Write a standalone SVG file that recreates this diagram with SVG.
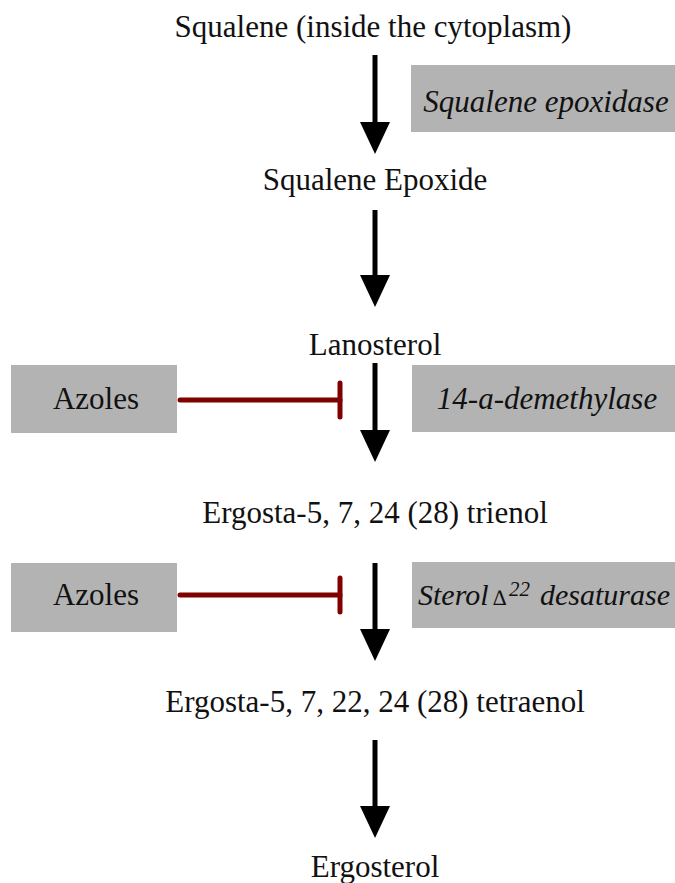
<svg xmlns="http://www.w3.org/2000/svg" width="675" height="883" viewBox="0 0 675 883">
<style>
.lbl{font-family:"Liberation Serif","Times New Roman",serif;font-size:31px;fill:#111;text-anchor:middle}
.enz{font-family:"Liberation Serif","Times New Roman",serif;font-size:31px;font-style:italic;fill:#111;text-anchor:middle}
.box{fill:#b3b3b3}
.arrow{stroke:#000;stroke-width:5;fill:none;marker-end:url(#ah)}
.inhib{stroke:#800000;stroke-width:5;stroke-linecap:round;fill:none;marker-end:url(#tee)}
</style>
<defs>
<marker id="ah" markerUnits="userSpaceOnUse" viewBox="0 0 32 30" markerWidth="32" markerHeight="30" refX="0" refY="15" orient="auto">
<path d="M0,0 L32,15 L0,30 Z" fill="#000"/>
</marker>
<marker id="tee" markerUnits="userSpaceOnUse" viewBox="-5 -20 10 40" markerWidth="10" markerHeight="40" refX="0" refY="0" orient="auto">
<line x1="0" y1="-17" x2="0" y2="17" stroke="#800000" stroke-width="5" stroke-linecap="round"/>
</marker>
</defs>
<rect width="675" height="883" fill="#fff"/>
<g id="n-squalene"><text class="lbl" x="373" y="37">Squalene (inside the cytoplasm)</text></g>
<g id="n-epoxidase"><rect class="box" x="411" y="65" width="264" height="67"/><text class="enz" x="546" y="112">Squalene epoxidase</text></g>
<g id="n-epoxide"><text class="lbl" x="375" y="190">Squalene Epoxide</text></g>
<g id="n-lanosterol"><text class="lbl" x="375" y="355">Lanosterol</text></g>
<g id="n-azoles1"><rect class="box" x="11" y="365" width="166" height="68"/><text class="lbl" x="96" y="409">Azoles</text></g>
<g id="n-demethylase"><rect class="box" x="412" y="365" width="263" height="67"/><text class="enz" x="547" y="409">14-a-demethylase</text></g>
<g id="n-trienol"><text class="lbl" x="375" y="523">Ergosta-5, 7, 24 (28) trienol</text></g>
<g id="n-azoles2"><rect class="box" x="11" y="563" width="166" height="69"/><text class="lbl" x="96" y="605">Azoles</text></g>
<g id="n-desaturase"><rect class="box" x="412" y="562" width="263" height="66"/><text class="enz" y="605" style="text-anchor:start;font-size:30px"><tspan x="418">Sterol</tspan><tspan x="493" font-size="22" font-style="normal">∆</tspan><tspan x="509" y="596" font-size="21">22</tspan><tspan x="540" y="605">desaturase</tspan></text></g>
<g id="n-tetraenol"><text class="lbl" x="375" y="712">Ergosta-5, 7, 22, 24 (28) tetraenol</text></g>
<g id="n-ergosterol"><text class="lbl" x="375" y="877">Ergosterol</text></g>
<g id="connectors">
<line class="arrow" x1="375" y1="55" x2="375" y2="122"/>
<line class="arrow" x1="375" y1="210" x2="375" y2="275"/>
<line class="arrow" x1="375" y1="363" x2="375" y2="430"/>
<line class="arrow" x1="375" y1="563" x2="375" y2="629"/>
<line class="arrow" x1="375" y1="740" x2="375" y2="806"/>
<line class="inhib" x1="180" y1="400" x2="340" y2="400"/>
<line class="inhib" x1="180" y1="595" x2="340" y2="595"/>
</g>
</svg>
